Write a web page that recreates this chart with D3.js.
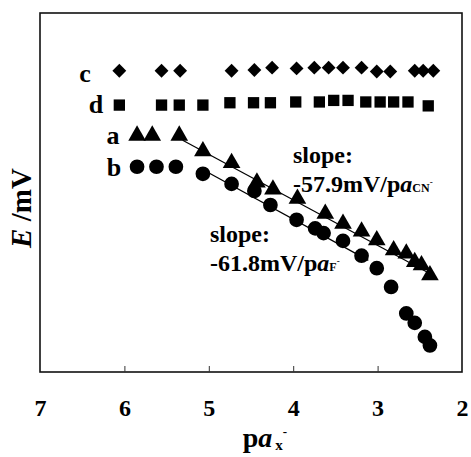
<!DOCTYPE html>
<meta charset="utf-8">
<html>
<head>
<style>
  body { margin: 0; background: #fff; }
  text { font-family: "Liberation Serif", "Times New Roman", serif; font-weight: bold; fill: #000; }
</style>
</head>
<body>
<script src="https://d3js.org/d3.v7.min.js"></script>
<script>

// data (pa of the anion, E in mV; y has no labels so the offset is arbitrary)
var paC = [6.06, 5.56, 5.34, 4.73, 4.46, 4.25, 3.96, 3.75, 3.58, 3.41, 3.19, 3.01, 2.85, 2.56, 2.46, 2.34];
var eC  = [26, 26, 26, 26, 27, 30, 29, 30, 30, 30, 30, 25, 25, 26, 26, 26];

var paD = [6.06, 5.56, 5.35, 5.07, 4.75, 4.47, 4.27, 3.97, 3.69, 3.52, 3.35, 3.14, 2.97, 2.81, 2.64, 2.40];
var eD  = [-18, -18, -18, -18, -15, -15, -15, -14, -14, -12, -12, -14, -14, -14, -14, -19];

var paA = [5.85, 5.67, 5.35, 5.07, 4.73, 4.43, 4.24, 3.95, 3.62, 3.41, 3.19, 3.01, 2.81, 2.66, 2.56, 2.48, 2.38];
var eA  = [-57, -57, -57, -77, -92, -117, -126, -138, -157, -170, -180, -191, -204, -208, -219, -223, -236];

var paB = [5.85, 5.62, 5.39, 5.07, 4.73, 4.46, 4.27, 3.96, 3.74, 3.64, 3.41, 3.19, 3.01, 2.84, 2.66, 2.56, 2.44, 2.38];
var eB  = [-97, -97, -97, -106, -119, -128, -146, -165, -176, -182, -192, -211, -227, -251, -285, -297, -315, -326];

// fitted lines (end points)
var fitA = [[5.31, -63], [2.36, -235]];
var fitB = [[5.10, -99], [3.11, -217]];

var xTicks = [7, 6, 5, 4, 3, 2];

var width = 471, height = 457;
var margin = {left: 40, right: 462, top: 13, bottom: 372};

var svg = d3.select("body").append("svg")
	.attr("width", width)
	.attr("height", height);

var x = d3.scaleLinear()
	.domain([7, 2])
	.range([margin.left, margin.right]);

var y = d3.scaleLinear()
	.domain([-360, 100])
	.range([margin.bottom, margin.top]);

// frame
svg.append("rect")
	.attr("x", margin.left)
	.attr("y", margin.top)
	.attr("width", margin.right - margin.left)
	.attr("height", margin.bottom - margin.top)
	.attr("fill", "none")
	.attr("stroke", "#111")
	.attr("stroke-width", 1.6);

// inner ticks
svg.append("g")
	.attr("transform", "translate(0," + margin.bottom + ")")
	.call(d3.axisBottom(x).tickValues(xTicks.slice(1, -1)).tickSize(-6).tickFormat(""))
	.call(function(g) { g.select(".domain").remove(); g.selectAll("line").attr("stroke", "#333"); });

// tick labels
var xAxis = svg.append("g")
	.attr("transform", "translate(0," + margin.bottom + ")")
	.call(d3.axisBottom(x).tickValues(xTicks).tickSize(0).tickPadding(27).tickFormat(d3.format("d")));
xAxis.select(".domain").remove();
xAxis.selectAll("text")
	.attr("font-family", null)
	.style("font-size", "24px");

// axis titles
var xt = svg.append("text")
	.attr("x", 265)
	.attr("y", 447)
	.attr("text-anchor", "middle")
	.style("font-size", "28px");
xt.append("tspan").text("p");
xt.append("tspan").style("font-style", "italic").text("a");
xt.append("tspan").style("font-size", "15px").attr("dx", 3).attr("dy", 3).text("x");
xt.append("tspan").style("font-size", "13px").attr("dy", -14).text("-");

var yt = svg.append("text")
	.attr("transform", "translate(31,208) rotate(-90)")
	.attr("text-anchor", "middle")
	.style("font-size", "29px");
yt.append("tspan").style("font-style", "italic").text("E");
yt.append("tspan").text(" /mV");

// fit lines
var line = d3.line()
	.x(function(d) { return x(d[0]); })
	.y(function(d) { return y(d[1]); });

[fitA, fitB].forEach(function(f) {
	svg.append("path")
		.attr("d", line(f))
		.attr("fill", "none")
		.attr("stroke", "#000")
		.attr("stroke-width", 1.2);
});

// markers
function pts(pa, e) {
	return pa.map(function(d, i) { return [d, e[i]]; });
}

var series = [
	{ name: "c", data: pts(paC, eC), type: d3.symbolSquare, size: 96, rot: 45 },
	{ name: "d", data: pts(paD, eD), type: d3.symbolSquare, size: 128, rot: 0 },
	{ name: "a", data: pts(paA, eA), type: d3.symbolTriangle, size: 135, rot: 0 },
	{ name: "b", data: pts(paB, eB), type: d3.symbolCircle, size: 170, rot: 0 }
];

series.forEach(function(s) {
	svg.append("g").selectAll("path")
		.data(s.data)
		.enter()
		.append("path")
		.attr("d", d3.symbol().type(s.type).size(s.size))
		.attr("transform", function(d) {
			return "translate(" + x(d[0]) + "," + y(d[1]) + ") rotate(" + s.rot + ")";
		})
		.attr("fill", "#000");
});

// series letters
var letters = [
	{ t: "c", x: 85, y: 82 },
	{ t: "d", x: 96, y: 113 },
	{ t: "a", x: 113, y: 144 },
	{ t: "b", x: 114, y: 176 }
];
svg.selectAll(".lab")
	.data(letters)
	.enter().append("text")
	.attr("class", "lab")
	.attr("x", function(d) { return d.x; })
	.attr("y", function(d) { return d.y; })
	.attr("text-anchor", "middle")
	.style("font-size", "26px")
	.text(function(d) { return d.t; });

// slope notes
function note(x0, y0, val, sub) {
	svg.append("text")
		.attr("x", x0).attr("y", y0)
		.style("font-size", "24px")
		.text("slope:");
	var t = svg.append("text")
		.attr("x", x0).attr("y", y0 + 29)
		.style("font-size", "24px");
	t.append("tspan").text(val + "mV/p");
	t.append("tspan").style("font-style", "italic").text("a");
	t.append("tspan").style("font-size", "12px").text(sub);
	t.append("tspan").style("font-size", "9px").attr("dy", -7).text("-");
}
note(293, 163, "-57.9", "CN");
note(210, 242, "-61.8", "F");

</script>
</body>
</html>
